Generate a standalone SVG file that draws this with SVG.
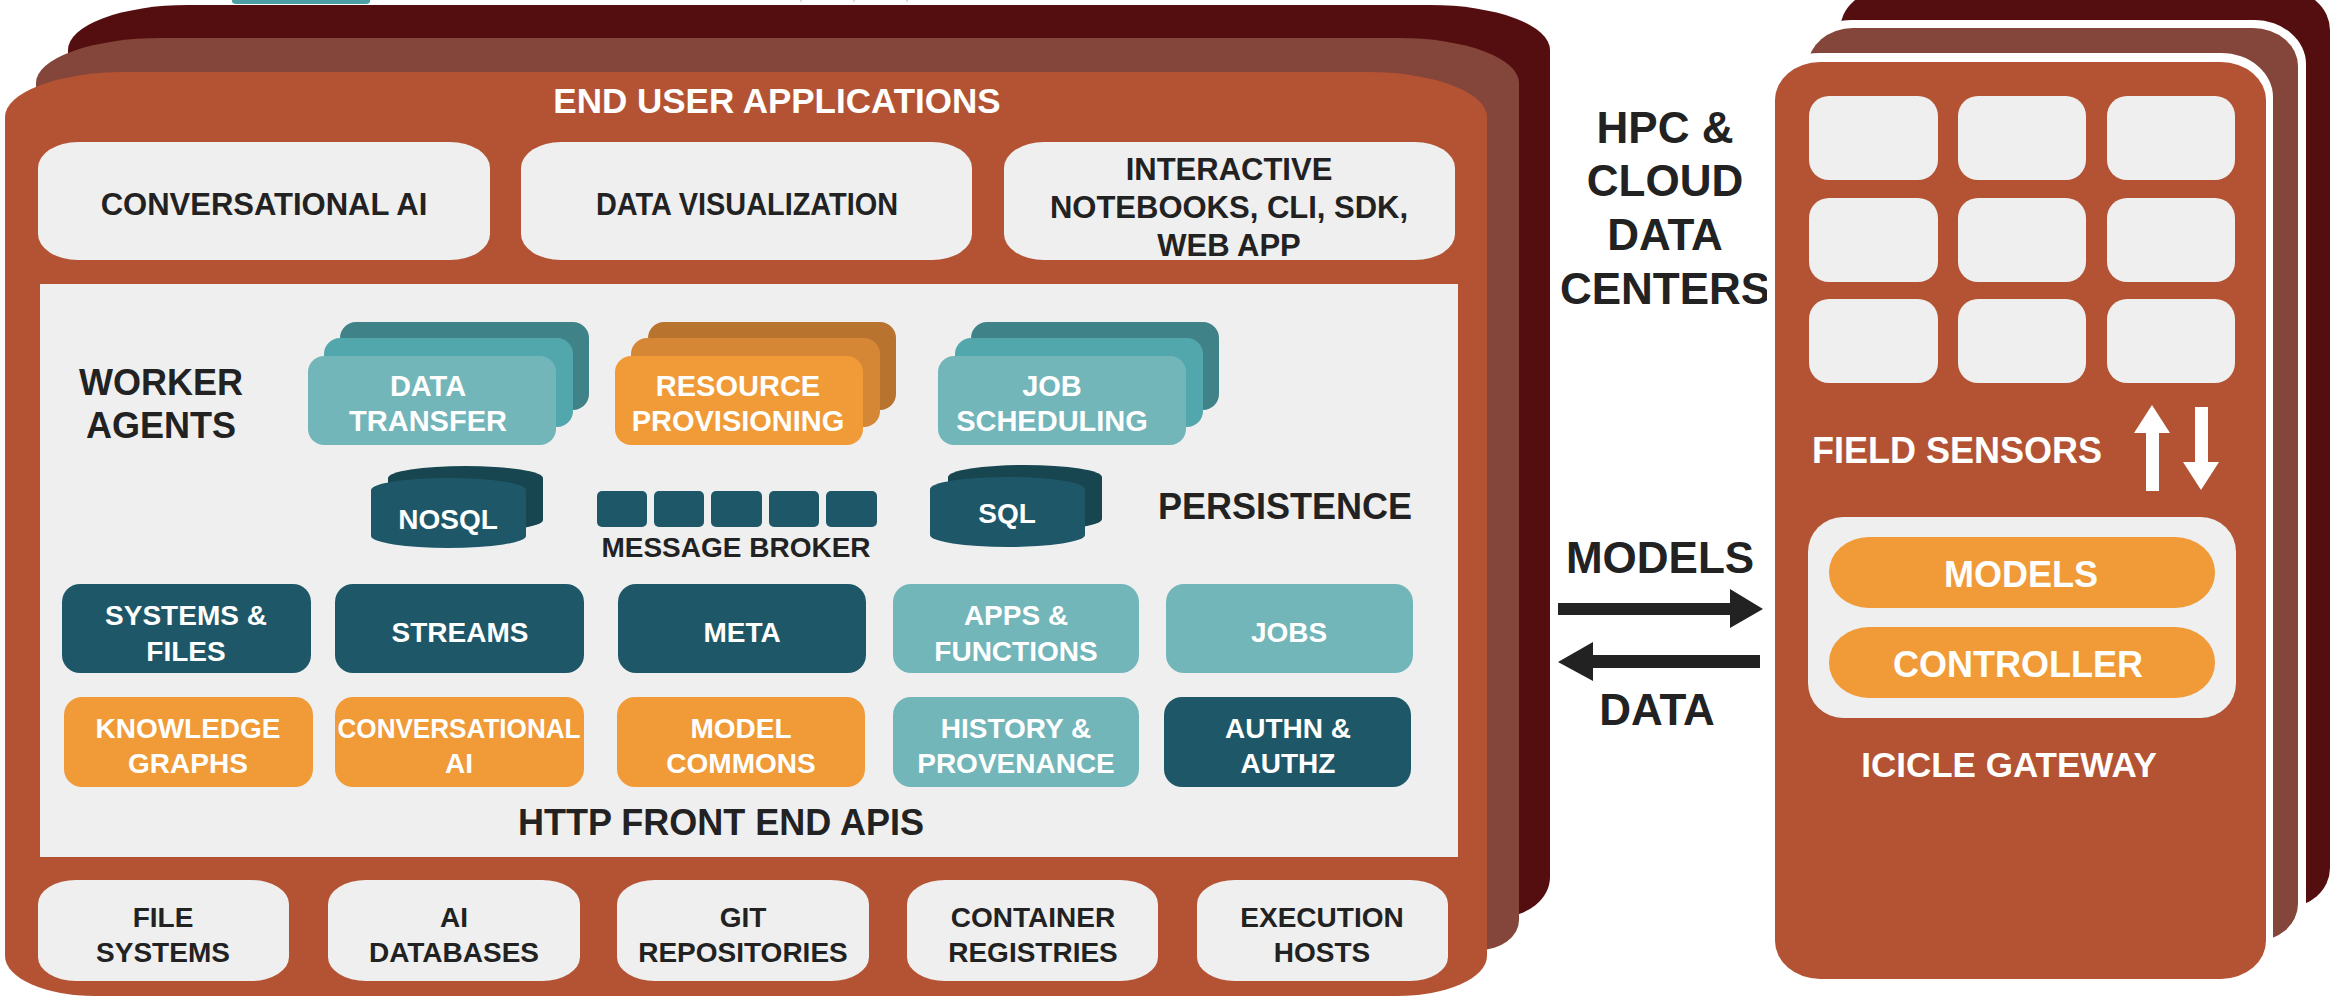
<svg xmlns="http://www.w3.org/2000/svg" width="2331" height="996" viewBox="0 0 2331 996">
<style>
text{font-family:"Liberation Sans",Arial,sans-serif;font-weight:bold;text-anchor:middle}
.dk{fill:#222222}
.wt{fill:#ffffff}
.t28{font-size:28px}
.t29{font-size:29px}
.t31{font-size:31px}
.t36{font-size:36px}
.t44{font-size:44px}
.lg{fill:#efefef}
.teal{fill:#1e5868}
.lteal{fill:#72b6ba}
.org{fill:#f09b38}
</style>
<defs>
<marker id="none" markerWidth="1" markerHeight="1"/>
</defs>
<rect width="2331" height="996" fill="#ffffff"/>
<!-- top crop fragments -->
<g id="fragments">
<path d="M232,0 H370 V1 Q370,4 366,4 H236 Q232,4 232,1 Z" fill="#4aa0a5"/>
<line x1="801" y1="0" x2="801" y2="2" stroke="#bbbbbb" stroke-width="1"/>
<line x1="854" y1="0" x2="854" y2="2" stroke="#bbbbbb" stroke-width="1"/>
<line x1="907" y1="0" x2="907" y2="2" stroke="#bbbbbb" stroke-width="1"/>
</g>
<!-- left stacked platform cards -->
<g id="platform-back">
<path d="M68,50 A120,45 0 0 1 188,5 H1430 A120,45 0 0 1 1550,50 V877 A50,40 0 0 1 1500,917 H118 A50,40 0 0 1 68,877 Z" fill="#540e0f"/>
<path d="M36,83 A125,45 0 0 1 161,38 H1399 A120,45 0 0 1 1519,83 V920 A40,30 0 0 1 1479,950 H76 A40,30 0 0 1 36,920 Z" fill="#84453a"/>
</g>
<g id="platform">
<path d="M5,117 A120,45 0 0 1 125,72 H1367 A120,45 0 0 1 1487,117 V956 A90,40 0 0 1 1397,996 H95 A90,40 0 0 1 5,956 Z" fill="#b45333"/>
<text class="wt" x="777" y="113" style="font-size:35px">END USER APPLICATIONS</text>
<rect x="40" y="284" width="1418" height="573" fill="#efefef"/>
</g>
<g id="app-conversational-ai">
<rect class="lg" x="38" y="142" width="452" height="118" rx="40" ry="26"/>
<text class="dk t31" x="264" y="215">CONVERSATIONAL AI</text>
</g>
<g id="app-data-visualization">
<rect class="lg" x="521" y="142" width="451" height="118" rx="40" ry="26"/>
<text class="dk t31" x="747" y="215" textLength="302" lengthAdjust="spacingAndGlyphs">DATA VISUALIZATION</text>
</g>
<g id="app-interactive">
<rect class="lg" x="1004" y="142" width="451" height="118" rx="40" ry="26"/>
<text class="dk t31" x="1229" y="180">INTERACTIVE</text>
<text class="dk t31" x="1229" y="218">NOTEBOOKS, CLI, SDK,</text>
<text class="dk t31" x="1229" y="256">WEB APP</text>
</g>
<!-- worker agents -->
<g id="worker-agents-label">
<text class="dk t36" x="161" y="395">WORKER</text>
<text class="dk t36" x="161" y="438">AGENTS</text>
</g>
<g id="agent-data-transfer">
<rect x="340" y="322" width="249" height="88" rx="16" fill="#3f8389"/>
<rect x="324" y="338" width="249" height="89" rx="16" fill="#52a7ad"/>
<rect x="308" y="356" width="248" height="89" rx="16" fill="#72b6ba"/>
<text class="wt t29" x="428" y="396">DATA</text>
<text class="wt t29" x="428" y="431">TRANSFER</text>
</g>
<g id="agent-resource-provisioning">
<rect x="648" y="322" width="248" height="88" rx="16" fill="#b8742f"/>
<rect x="631" y="338" width="249" height="89" rx="16" fill="#d68735"/>
<rect x="615" y="356" width="248" height="89" rx="16" fill="#f09b38"/>
<text class="wt t29" x="738" y="396">RESOURCE</text>
<text class="wt t29" x="738" y="431">PROVISIONING</text>
</g>
<g id="agent-job-scheduling">
<rect x="971" y="322" width="248" height="88" rx="16" fill="#3f8389"/>
<rect x="955" y="338" width="248" height="89" rx="16" fill="#52a7ad"/>
<rect x="938" y="356" width="248" height="89" rx="16" fill="#72b6ba"/>
<text class="wt t29" x="1052" y="396">JOB</text>
<text class="wt t29" x="1052" y="431">SCHEDULING</text>
</g>
<!-- persistence -->
<g id="db-nosql">
<path d="M388,478 A77.5,12 0 0 1 543,478 L543,520 A77.5,12 0 0 1 388,520 Z" fill="#174651"/>
<path d="M371,490 A77.5,12 0 0 1 526,490 L526,536 A77.5,12 0 0 1 371,536 Z" fill="#1e5868"/>
<text class="wt t28" x="448" y="529">NOSQL</text>
</g>
<g id="message-broker">
<rect class="teal" x="597" y="491" width="50" height="36" rx="5"/>
<rect class="teal" x="654" y="491" width="50" height="36" rx="5"/>
<rect class="teal" x="711" y="491" width="51" height="36" rx="5"/>
<rect class="teal" x="769" y="491" width="50" height="36" rx="5"/>
<rect class="teal" x="826" y="491" width="51" height="36" rx="5"/>
<text class="dk t28" x="736" y="557">MESSAGE BROKER</text>
</g>
<g id="db-sql">
<path d="M948,477 A77,12 0 0 1 1102,477 L1102,519 A77,12 0 0 1 948,519 Z" fill="#174651"/>
<path d="M930,489 A77.5,12 0 0 1 1085,489 L1085,535 A77.5,12 0 0 1 930,535 Z" fill="#1e5868"/>
<text class="wt t28" x="1007" y="523">SQL</text>
</g>
<g id="persistence-label">
<text class="dk t36" x="1285" y="519">PERSISTENCE</text>
</g>
<!-- APIs row 1 -->
<g id="api-systems-files">
<rect class="teal" x="62" y="584" width="249" height="89" rx="18"/>
<text class="wt t28" x="186" y="625">SYSTEMS &amp;</text>
<text class="wt t28" x="186" y="661">FILES</text>
</g>
<g id="api-streams">
<rect class="teal" x="335" y="584" width="249" height="89" rx="18"/>
<text class="wt t28" x="460" y="642">STREAMS</text>
</g>
<g id="api-meta">
<rect class="teal" x="618" y="584" width="248" height="89" rx="18"/>
<text class="wt t28" x="742" y="642">META</text>
</g>
<g id="api-apps-functions">
<rect class="lteal" x="893" y="584" width="246" height="89" rx="18"/>
<text class="wt t28" x="1016" y="625">APPS &amp;</text>
<text class="wt t28" x="1016" y="661">FUNCTIONS</text>
</g>
<g id="api-jobs">
<rect class="lteal" x="1166" y="584" width="247" height="89" rx="18"/>
<text class="wt t28" x="1289" y="642">JOBS</text>
</g>
<!-- APIs row 2 -->
<g id="api-knowledge-graphs">
<rect class="org" x="64" y="697" width="249" height="90" rx="18"/>
<text class="wt t28" x="188" y="738">KNOWLEDGE</text>
<text class="wt t28" x="188" y="773">GRAPHS</text>
</g>
<g id="api-conversational-ai">
<rect class="org" x="335" y="697" width="249" height="90" rx="18"/>
<text class="wt t28" x="459" y="738" textLength="243" lengthAdjust="spacingAndGlyphs">CONVERSATIONAL</text>
<text class="wt t28" x="459" y="773">AI</text>
</g>
<g id="api-model-commons">
<rect class="org" x="617" y="697" width="248" height="90" rx="18"/>
<text class="wt t28" x="741" y="738">MODEL</text>
<text class="wt t28" x="741" y="773">COMMONS</text>
</g>
<g id="api-history-provenance">
<rect class="lteal" x="893" y="697" width="246" height="90" rx="18"/>
<text class="wt t28" x="1016" y="738">HISTORY &amp;</text>
<text class="wt t28" x="1016" y="773">PROVENANCE</text>
</g>
<g id="api-authn-authz">
<rect class="teal" x="1164" y="697" width="247" height="90" rx="18"/>
<text class="wt t28" x="1288" y="738">AUTHN &amp;</text>
<text class="wt t28" x="1288" y="773">AUTHZ</text>
</g>
<g id="http-label">
<text class="dk t36" x="721" y="835">HTTP FRONT END APIS</text>
</g>
<!-- resources bottom -->
<g id="res-file-systems">
<rect class="lg" x="38" y="880" width="251" height="101" rx="38" ry="24"/>
<text class="dk t28" x="163" y="927">FILE</text>
<text class="dk t28" x="163" y="962">SYSTEMS</text>
</g>
<g id="res-ai-databases">
<rect class="lg" x="328" y="880" width="252" height="101" rx="38" ry="24"/>
<text class="dk t28" x="454" y="927">AI</text>
<text class="dk t28" x="454" y="962">DATABASES</text>
</g>
<g id="res-git-repositories">
<rect class="lg" x="617" y="880" width="252" height="101" rx="38" ry="24"/>
<text class="dk t28" x="743" y="927">GIT</text>
<text class="dk t28" x="743" y="962">REPOSITORIES</text>
</g>
<g id="res-container-registries">
<rect class="lg" x="907" y="880" width="251" height="101" rx="38" ry="24"/>
<text class="dk t28" x="1033" y="927">CONTAINER</text>
<text class="dk t28" x="1033" y="962">REGISTRIES</text>
</g>
<g id="res-execution-hosts">
<rect class="lg" x="1197" y="880" width="251" height="101" rx="38" ry="24"/>
<text class="dk t28" x="1322" y="927">EXECUTION</text>
<text class="dk t28" x="1322" y="962">HOSTS</text>
</g>
<!-- middle labels -->
<g id="hpc-label">
<text class="dk t44" x="1665" y="143">HPC &amp;</text>
<text class="dk t44" x="1665" y="196">CLOUD</text>
<text class="dk t44" x="1665" y="250">DATA</text>
<text class="dk t44" x="1665" y="304">CENTERS</text>
</g>
<g id="models-label"><text class="dk t44" x="1660" y="573">MODELS</text></g>
<g id="data-label"><text class="dk t44" x="1657" y="725">DATA</text></g>
<!-- gateway stacked cards -->
<g id="gateway-back">
<rect x="1840" y="-10" width="490" height="918" rx="45" ry="40" fill="#540e0f"/>
<rect x="1800" y="20" width="506" height="930" rx="52" ry="44" fill="#ffffff"/>
<rect x="1808" y="28" width="490" height="914" rx="45" ry="38" fill="#84453a"/>
<rect x="1767" y="53" width="506" height="934" rx="52" ry="44" fill="#ffffff"/>
</g>
<g id="gateway">
<rect x="1775" y="62" width="491" height="917" rx="45" ry="38" fill="#b45333"/>
<rect class="lg" x="1809" y="96" width="129" height="84" rx="20"/>
<rect class="lg" x="1958" y="96" width="128" height="84" rx="20"/>
<rect class="lg" x="2107" y="96" width="128" height="84" rx="20"/>
<rect class="lg" x="1809" y="198" width="129" height="84" rx="20"/>
<rect class="lg" x="1958" y="198" width="128" height="84" rx="20"/>
<rect class="lg" x="2107" y="198" width="128" height="84" rx="20"/>
<rect class="lg" x="1809" y="299" width="129" height="84" rx="20"/>
<rect class="lg" x="1958" y="299" width="128" height="84" rx="20"/>
<rect class="lg" x="2107" y="299" width="128" height="84" rx="20"/>
<text class="wt t36" x="1812" y="463" style="text-anchor:start">FIELD SENSORS</text>
<rect class="lg" x="1808" y="517" width="428" height="201" rx="35"/>
<text class="wt" x="2009" y="777" style="font-size:35px">ICICLE GATEWAY</text>
</g>
<g id="gw-models">
<rect class="org" x="1829" y="537" width="386" height="71" rx="40" ry="35"/>
<text class="wt t36" x="2021" y="587">MODELS</text>
</g>
<g id="gw-controller">
<rect class="org" x="1829" y="627" width="386" height="71" rx="40" ry="35"/>
<text class="wt t36" x="2018" y="677">CONTROLLER</text>
</g>
<!-- connectors -->
<g id="connectors">
<path d="M2146,491 V433 H2134 L2152,405 L2170,433 H2159 V491 Z" fill="#ffffff"/>
<path d="M2195,407 H2208 V462 H2219 L2201,490 L2183,462 H2195 Z" fill="#ffffff"/>
<path d="M1558,603 H1730 V589 L1763,609 L1730,628 V615 H1558 Z" fill="#222222"/>
<path d="M1760,655 H1593 V642 L1558,662 L1593,681 V668 H1760 Z" fill="#222222"/>
</g>
</svg>
